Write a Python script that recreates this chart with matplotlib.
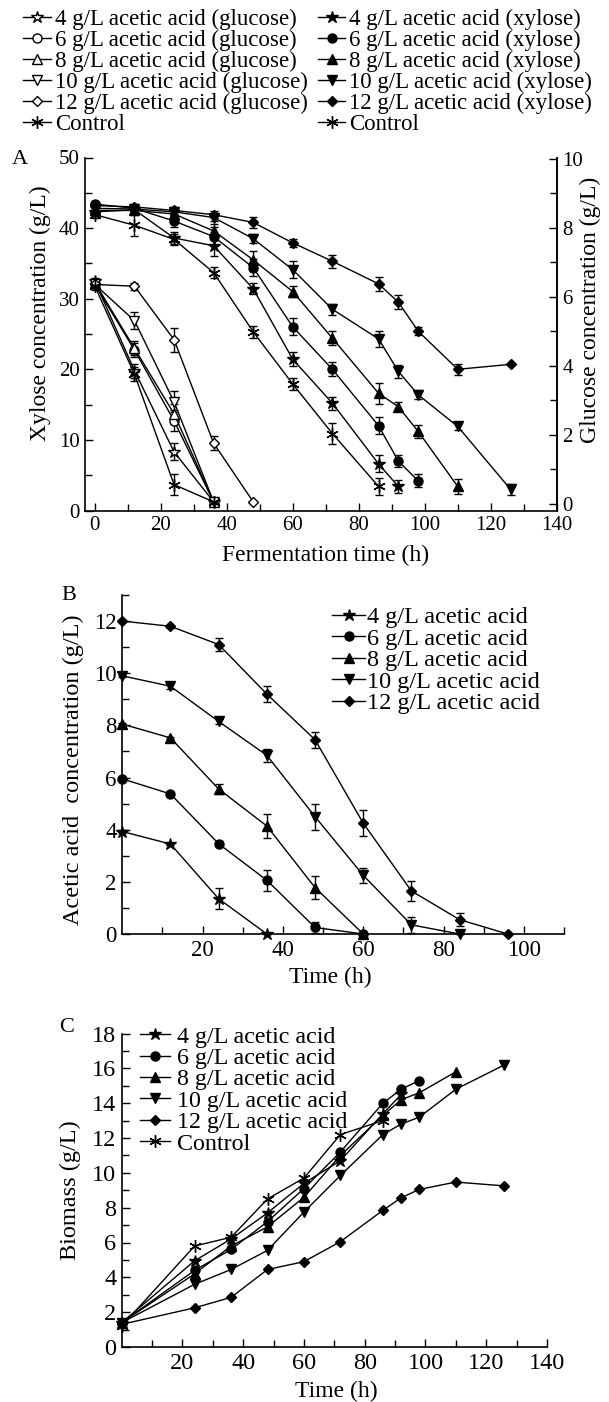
import matplotlib
matplotlib.use('Agg')
import matplotlib.pyplot as plt
from matplotlib.ticker import FixedLocator, MultipleLocator

plt.rcParams['font.family'] = ['Liberation Serif', 'DejaVu Serif']

W, H = 609, 1402

# ---------------- Panel A data ----------------
xyl_time = [0, 12, 24, 36, 48, 60, 72, 86, 92, 98, 110, 126]
xyl_4 = [42.3, 42.6, 38.6, 37.5, 31.4, 21.4, 15.2, 6.6, 3.4]
xyl_6 = [43.4, 42.8, 41.0, 38.8, 34.4, 26.0, 20.0, 12.0, 7.0, 4.2]
xyl_8 = [42.5, 42.5, 42.0, 39.6, 35.5, 31.0, 24.4, 16.6, 14.7, 11.2, 3.4]
xyl_10 = [42.8, 42.7, 42.3, 41.5, 38.5, 34.1, 28.5, 24.3, 19.7, 16.4, 11.9, 3.0]
xyl_12 = [43.2, 43.0, 42.5, 41.9, 40.8, 37.9, 35.3, 32.1, 29.5, 25.4, 20.0, 20.7]
xyl_ctrl = [41.9, 40.4, 38.4, 33.7, 25.3, 17.9, 10.9, 3.4]

xyl_err_4 = [0.5, 0.5, 0.8, 1.5, 0.8, 1.0, 0.9, 1.2, 0.9]
xyl_err_6 = [0.5, 0.5, 0.8, 1.3, 1.2, 1.2, 1.0, 1.2, 0.8, 0.9]
xyl_err_8 = [0.5, 0.4, 0.5, 1.0, 1.2, 0.8, 1.0, 1.5, 0.6, 0.9, 1.0]
xyl_err_10 = [0.4, 0.4, 0.5, 0.5, 0.6, 1.2, 0.8, 1.1, 0.9, 0.6, 0.5, 0.8]
xyl_err_12 = [0.4, 0.4, 0.5, 0.5, 0.8, 0.6, 0.9, 1.0, 1.0, 0.6, 0.8, 0.0]
xyl_err_ctrl = [0.5, 1.5, 0.8, 0.8, 0.8, 0.9, 1.5, 1.2]

glu_time = [0, 12, 24, 36, 48]
glu_4 = [6.45, 3.85, 1.5, 0.05]
glu_6 = [6.35, 4.45, 2.4, 0.05]
glu_8 = [6.4, 4.5, 2.6, 0.05]
glu_10 = [6.35, 5.3, 2.95, 0.05]
glu_12 = [6.35, 6.3, 4.75, 1.75, 0.05]
glu_ctrl = [6.3, 3.75, 0.55, 0.05]

glu_err_4 = [0.1, 0.2, 0.25, 0.0]
glu_err_6 = [0.1, 0.2, 0.3, 0.0]
glu_err_8 = [0.1, 0.2, 0.3, 0.0]
glu_err_10 = [0.1, 0.25, 0.3, 0.0]
glu_err_12 = [0.1, 0.1, 0.35, 0.2, 0.0]
glu_err_ctrl = [0.1, 0.2, 0.3, 0.0]

# ---------------- Panel B data ----------------
ace_time = [0, 12, 24, 36, 48, 60, 72, 84, 96]
ace_4 = [3.93, 3.45, 1.35, 0.0]
ace_6 = [5.95, 5.37, 3.46, 2.06, 0.25, 0.0]
ace_8 = [8.05, 7.52, 5.56, 4.14, 1.78, 0.0]
ace_10 = [9.9, 9.5, 8.15, 6.85, 4.5, 2.25, 0.35, 0.0]
ace_12 = [12.0, 11.8, 11.1, 9.2, 7.45, 4.25, 1.65, 0.55, 0.0]

ace_err_4 = [0.05, 0.05, 0.4, 0.0]
ace_err_6 = [0.05, 0.05, 0.1, 0.4, 0.2, 0.0]
ace_err_8 = [0.05, 0.05, 0.2, 0.45, 0.45, 0.0]
ace_err_10 = [0.05, 0.1, 0.1, 0.25, 0.5, 0.3, 0.3, 0.0]
ace_err_12 = [0.05, 0.05, 0.25, 0.3, 0.3, 0.5, 0.4, 0.25, 0.0]

# ---------------- Panel C data ----------------
bio_time = [0, 24, 36, 48, 60, 72, 86, 92, 98, 110, 126]
bio_4 = [1.4, 4.95, 6.2, 7.7, 9.4, 10.7, 13.4, 14.5]
bio_6 = [1.4, 4.4, 5.6, 7.2, 9.1, 11.2, 14.0, 14.8, 15.3]
bio_8 = [1.4, 4.2, 5.8, 6.9, 8.6, 11.0, 13.3, 14.2, 14.6, 15.8]
bio_10 = [1.4, 3.6, 4.45, 5.55, 7.75, 9.85, 12.2, 12.8, 13.2, 14.8, 16.2]
bio_12 = [1.3, 2.25, 2.85, 4.45, 4.9, 6.05, 7.85, 8.57, 9.05, 9.47, 9.25]
bio_ctrl = [1.2, 5.8, 6.3, 8.5, 9.7, 12.2, 13.0]

labels_conc = ['4 g/L acetic acid', '6 g/L acetic acid', '8 g/L acetic acid',
               '10 g/L acetic acid', '12 g/L acetic acid']

ASTER = (6, 2, 0)
markers = ['*', 'o', '^', 'v', 'D']
msizes = [9, 6.5, 7, 7, 5.5]
ms_ctrl = 9

LW = 1.0
ERR = dict(elinewidth=1.0, capsize=2.8, capthick=1.0)


def style_axes(ax, fs_tick):
    ax.tick_params(which='both', direction='in', width=1.0, labelsize=fs_tick,
                   colors='black', pad=4)
    ax.tick_params(which='major', length=6)
    ax.tick_params(which='minor', length=5)
    for s in ax.spines.values():
        s.set_linewidth(1.2)


fig = plt.figure(figsize=(W / 100, H / 100), dpi=100)


def axrect(l, r, t, b):
    return [l / W, 1 - b / H, (r - l) / W, (b - t) / H]


# =============== Panel A ===============
axA = fig.add_axes(axrect(85, 556.7, 157.5, 510.5))
axA2 = axA.twinx()
axA.set_xlim(-3, 140)
axA.set_ylim(0, 50)
axA2.set_ylim(-0.2, 10.03)
axA.spines['top'].set_visible(False)
axA2.spines['top'].set_visible(False)
axA2.spines['left'].set_visible(False)
axA2.spines['bottom'].set_visible(False)

glu_series = [glu_4, glu_6, glu_8, glu_10, glu_12]
glu_errs = [glu_err_4, glu_err_6, glu_err_8, glu_err_10, glu_err_12]
xyl_series = [xyl_4, xyl_6, xyl_8, xyl_10, xyl_12]
xyl_errs = [xyl_err_4, xyl_err_6, xyl_err_8, xyl_err_10, xyl_err_12]

glu_handles, xyl_handles = [], []
for i in range(5):
    g = glu_series[i]
    h = axA2.errorbar(glu_time[:len(g)], g, yerr=glu_errs[i], color='black', lw=LW,
                      marker=markers[i], ms=msizes[i], mfc='white', mec='black',
                      mew=1.0, **ERR)
    glu_handles.append(h.lines[0])
hg = axA2.errorbar(glu_time[:len(glu_ctrl)], glu_ctrl, yerr=glu_err_ctrl, color='black',
                   lw=LW, marker=ASTER, ms=ms_ctrl, mec='black', mew=1.0, **ERR)
glu_handles.append(hg.lines[0])

for i in range(5):
    v = xyl_series[i]
    h = axA.errorbar(xyl_time[:len(v)], v, yerr=xyl_errs[i], color='black', lw=LW,
                     marker=markers[i], ms=msizes[i], mfc='black', mec='black',
                     mew=1.0, **ERR)
    xyl_handles.append(h.lines[0])
hx = axA.errorbar(xyl_time[:len(xyl_ctrl)], xyl_ctrl, yerr=xyl_err_ctrl, color='black',
                  lw=LW, marker=ASTER, ms=ms_ctrl, mec='black', mew=1.0, **ERR)
xyl_handles.append(hx.lines[0])

style_axes(axA, 15)
style_axes(axA2, 15)
axA.xaxis.set_major_locator(FixedLocator([0, 20, 40, 60, 80, 100, 120, 140]))
axA.xaxis.set_minor_locator(FixedLocator([10, 30, 50, 70, 90, 110, 130]))
axA.yaxis.set_major_locator(MultipleLocator(10))
axA.yaxis.set_minor_locator(MultipleLocator(5))
axA2.yaxis.set_major_locator(FixedLocator([0, 2, 4, 6, 8, 10]))
axA2.yaxis.set_minor_locator(FixedLocator([1, 3, 5, 7, 9]))

fig.text(325.7 / W, 1 - 555 / H, 'Fermentation time (h)', ha='center', va='center',
         fontsize=17)
fig.text(40 / W, 1 - 313 / H, 'Xylose concentration (g/L)', rotation=90,
         ha='center', va='center', fontsize=17)
fig.text(590 / W, 1 - 310 / H, 'Glucose concentration (g/L)', rotation=90,
         ha='center', va='center', fontsize=17)
fig.text(19.5 / W, 1 - 159 / H, 'A', ha='center', va='center', fontsize=16)

glu_labels = [l + ' (glucose)' for l in labels_conc] + ['Control']
xyl_labels = [l + ' (xylose)' for l in labels_conc] + ['Control']
legA = fig.legend(glu_handles + xyl_handles, glu_labels + xyl_labels, ncol=2,
                  loc='upper left', bbox_to_anchor=(23 / W, 1 - 8.5 / H),
                  frameon=False, fontsize=16.5, borderaxespad=0, borderpad=0,
                  handlelength=1.2, handletextpad=0.18, columnspacing=0.45,
                  labelspacing=0.0)

# =============== Panel B ===============
axB = fig.add_axes(axrect(122.3, 564, 595, 934))
axB.set_xlim(0, 110)
axB.set_ylim(0, 13)
axB.spines['top'].set_visible(False)
axB.spines['right'].set_visible(False)
ace_series = [ace_4, ace_6, ace_8, ace_10, ace_12]
ace_errs = [ace_err_4, ace_err_6, ace_err_8, ace_err_10, ace_err_12]
hB = []
for i in range(5):
    v = ace_series[i]
    h = axB.errorbar(ace_time[:len(v)], v, yerr=ace_errs[i], color='black', lw=LW,
                     marker=markers[i], ms=msizes[i], mfc='black', mec='black',
                     mew=1.0, clip_on=False, **ERR)
    hB.append(h.lines[0])
style_axes(axB, 16.5)
axB.xaxis.set_major_locator(FixedLocator([20, 40, 60, 80, 100]))
axB.xaxis.set_minor_locator(FixedLocator([10, 30, 50, 70, 90, 110]))
axB.yaxis.set_major_locator(FixedLocator([0, 2, 4, 6, 8, 10, 12]))
axB.yaxis.set_minor_locator(FixedLocator([1, 3, 5, 7, 9, 11, 13]))
fig.text(330 / W, 1 - 977 / H, 'Time (h)', ha='center', va='center', fontsize=17)
fig.text(73.5 / W, 1 - 770 / H, 'Acetic acid  concentration (g/L)', rotation=90,
         ha='center', va='center', fontsize=17.5)
fig.text(68.6 / W, 1 - 596 / H, 'B', ha='center', va='center', fontsize=16)
axB.legend(hB, labels_conc, loc='upper left', bbox_to_anchor=(332 / W, 1 - 606 / H),
           bbox_transform=fig.transFigure, frameon=False, fontsize=17.5,
           borderaxespad=0, borderpad=0, handlelength=1.36, handletextpad=0.1,
           labelspacing=-0.02)

# =============== Panel C ===============
axC = fig.add_axes(axrect(121.7, 547, 1033.5, 1347))
axC.set_xlim(0, 140)
axC.set_ylim(0, 18)
axC.spines['top'].set_visible(False)
axC.spines['right'].set_visible(False)
bio_series = [bio_4, bio_6, bio_8, bio_10, bio_12]
hC = []
for i in range(5):
    v = bio_series[i]
    h, = axC.plot(bio_time[:len(v)], v, color='black', lw=LW, marker=markers[i],
                  ms=msizes[i], mfc='black', mec='black', mew=1.0, clip_on=False)
    hC.append(h)
h, = axC.plot(bio_time[:len(bio_ctrl)], bio_ctrl, color='black', lw=LW, marker=ASTER,
              ms=ms_ctrl, mec='black', mew=1.0, clip_on=False)
hC.append(h)
style_axes(axC, 17.5)
axC.xaxis.set_major_locator(FixedLocator([20, 40, 60, 80, 100, 120, 140]))
axC.xaxis.set_minor_locator(FixedLocator([10, 30, 50, 70, 90, 110, 130]))
axC.yaxis.set_major_locator(FixedLocator([0, 2, 4, 6, 8, 10, 12, 14, 16, 18]))
axC.yaxis.set_minor_locator(FixedLocator([1, 3, 5, 7, 9, 11, 13, 15, 17]))
fig.text(336 / W, 1 - 1391 / H, 'Time (h)', ha='center', va='center', fontsize=17)
fig.text(70 / W, 1 - 1190 / H, 'Biomass (g/L)', rotation=90,
         ha='center', va='center', fontsize=17.5)
fig.text(66.7 / W, 1 - 1027 / H, 'C', ha='center', va='center', fontsize=16)
axC.legend(hC, labels_conc + ['Control'], loc='upper left',
           bbox_to_anchor=(140 / W, 1 - 1026 / H), bbox_transform=fig.transFigure,
           frameon=False, fontsize=17.3, borderaxespad=0, borderpad=0,
           handlelength=1.25, handletextpad=0.27, labelspacing=-0.02)

fig.savefig('out.png', dpi=100)
